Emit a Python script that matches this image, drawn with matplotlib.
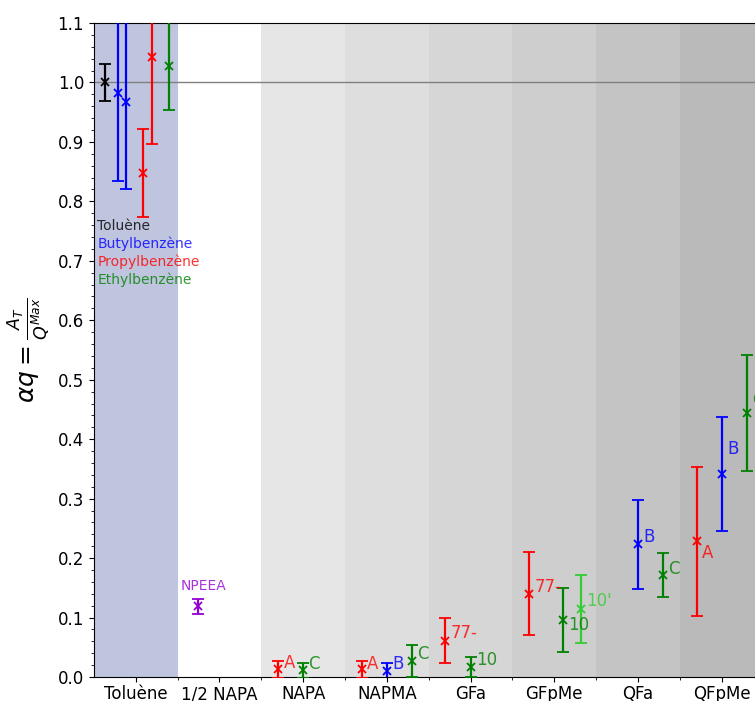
import matplotlib
matplotlib.use("Agg")
import matplotlib.pyplot as plt
from matplotlib.ticker import MultipleLocator, FixedLocator
import numpy as np

# ---------------- data ----------------
categories = ['Toluène', '1/2 NAPA', 'NAPA', 'NAPMA', 'GFa', 'GFpMe', 'QFa', 'QFpMe']

point_category = [0, 0, 0, 0, 0, 0,
                  1,
                  2, 2,
                  3, 3, 3,
                  4, 4,
                  5, 5, 5,
                  6, 6,
                  7, 7, 7]
point_value = [1.000, 0.983, 0.967, 0.848, 1.043, 1.028,
               0.119,
               0.013, 0.011,
               0.013, 0.010, 0.027,
               0.061, 0.017,
               0.140, 0.096, 0.114,
               0.223, 0.171,
               0.228, 0.341, 0.444]
point_error = [0.031, 0.148, 0.146, 0.074, 0.147, 0.074,
               0.013,
               0.014, 0.012,
               0.014, 0.014, 0.027,
               0.0375, 0.017,
               0.070, 0.054, 0.057,
               0.075, 0.037,
               0.126, 0.096, 0.097]
point_label = [None, None, None, None, None, None,
               None,
               'A', 'C',
               'A', 'B', 'C',
               '77-', '10',
               '77-', '10', "10'",
               'B', 'C',
               'A', 'B', 'C']
point_color = ['black', 'blue', 'blue', 'red', 'red', 'green',
               'darkviolet',
               'red', 'green',
               'red', 'blue', 'green',
               'red', 'green',
               'red', 'green', 'limegreen',
               'blue', 'green',
               'red', 'blue', 'green']

legend_names = ['Toluène', 'Butylbenzène', 'Propylbenzène', 'Ethylbenzène']
legend_colors = ['black', 'blue', 'red', 'green']

# ---------------- layout / style ----------------
point_offset = [-0.37, -0.21, -0.11, 0.09, 0.19, 0.40,
                -0.26,
                -0.30, 0.0,
                -0.30, 0.0, 0.30,
                -0.30, 0.0,
                -0.30, 0.10, 0.32,
                0.0, 0.30,
                -0.30, 0.0, 0.30]
label_dy = [0, 0, 0, 0, 0, 0,
            0,
            0.011, 0.011,
            0.009, 0.012, 0.012,
            0.0125, 0.0116,
            0.012, -0.0085, 0.013,
            0.012, 0.011,
            -0.020, 0.042, 0.022]

band_colors = ['#bfc5de', '#ffffff', '#e6e6e6', '#dedede', '#d6d6d6',
               '#cecece', '#c4c4c4', '#bababa']

W, H = 755, 701
fig = plt.figure(figsize=(W / 100, H / 100), dpi=100)
left_px, right_px, top_px, bot_px = 93.8, 763.6, 23, 677
ax = fig.add_axes([left_px / W, 1 - bot_px / H,
                   (right_px - left_px) / W, (bot_px - top_px) / H])

for i, c in enumerate(band_colors):
    ax.axvspan(i - 0.5, i + 0.5, color=c, zorder=0, lw=0)

ax.axhline(1.0, color='gray', lw=1, zorder=1)

for cat, val, err, off, col in zip(point_category, point_value, point_error,
                                   point_offset, point_color):
    ax.errorbar(cat + off, val, yerr=err, fmt='x', color=col, ecolor=col,
                elinewidth=1.6, capsize=4, capthick=1.6, markersize=6,
                mew=1.3, zorder=3)

for cat, val, off, lab, col, dy in zip(point_category, point_value,
                                       point_offset, point_label,
                                       point_color, label_dy):
    if lab is None:
        continue
    ax.text(cat + off + 0.065, val + dy, lab, color=col, alpha=0.8,
            fontsize=12, ha='left', va='center', zorder=4)

# NPEEA label
ax.text(0.815, 0.153, 'NPEEA', color='darkviolet', alpha=0.8, fontsize=10,
        ha='center', va='center', zorder=4)

# Legend-like text in Toluène band
for k, (name, col) in enumerate(zip(legend_names, legend_colors)):
    ax.text(-0.46, 0.759 - 0.0305 * k, name, color=col, alpha=0.8,
            fontsize=10, ha='left', va='center', zorder=4)

ax.set_xlim(-0.5, len(categories) - 0.5)
ax.set_ylim(0.0, 1.1)
ax.xaxis.set_major_locator(FixedLocator(np.arange(len(categories))))
ax.set_xticklabels(categories, fontsize=12)
ax.xaxis.set_minor_locator(FixedLocator(np.arange(len(categories)) + 0.5))
ax.yaxis.set_major_locator(MultipleLocator(0.1))
ax.yaxis.set_minor_locator(MultipleLocator(0.02))
ax.tick_params(axis='x', which='major', pad=2.5)
ax.tick_params(axis='y', labelsize=12)
ax.set_yticklabels([f'{v:.1f}' for v in ax.get_yticks()])
ax.set_ylabel(r'$\alpha q = \frac{A_T}{Q^{Max}}$', fontsize=18)

fig.savefig('out.png', dpi=100)
